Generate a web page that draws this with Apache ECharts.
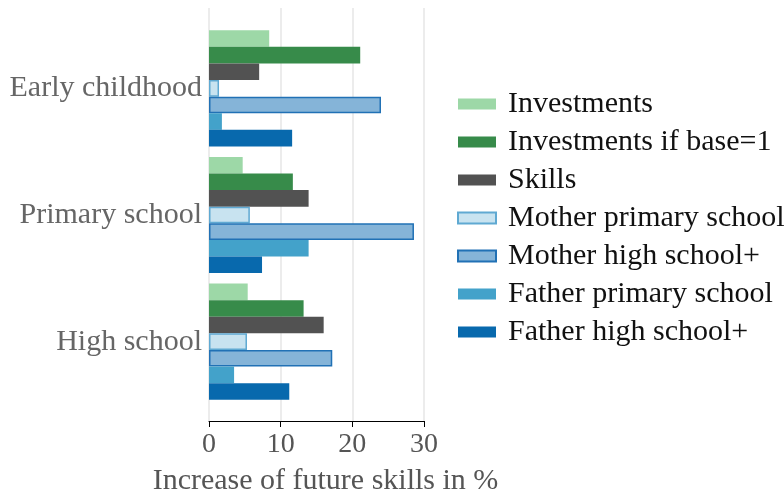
<!DOCTYPE html>
<html>
<head>
<meta charset="utf-8">
<script src="https://cdn.jsdelivr.net/npm/echarts@6/dist/echarts.min.js"></script>
<style>
  html, body { margin: 0; padding: 0; background: #fff; }
  #chart { width: 784px; height: 493px; }
</style>
</head>
<body>
<div id="chart"></div>
<script>
  // categories, top to bottom
  var stages = ['Early childhood', 'Primary school', 'High school'];

  var seriesNames = ['Investments', 'Investments if base=1', 'Skills',
    'Mother primary school', 'Mother high school+',
    'Father primary school', 'Father high school+'];

  var investments = [8.4, 4.7, 5.4];
  var investmentsBase1 = [21.1, 11.7, 13.2];
  var skills = [7.0, 13.9, 16.0];
  var motherPrimary = [1.4, 5.7, 5.3];
  var motherHigh = [24.0, 28.6, 17.2];
  var fatherPrimary = [1.8, 13.9, 3.5];
  var fatherHigh = [11.6, 7.4, 11.2];

  var xTicks = [0, 10, 20, 30];

  var font = "'Liberation Serif', 'Times New Roman', serif";

  var colors = ['#9dd8a7', '#378b4a', '#525252', '#c8e3f0', '#85b4d8', '#43a2ca', '#0869ad'];
  var borders = [null, null, null, '#5fa9d2', '#2171b5', null, null];
  var allData = [investments, investmentsBase1, skills, motherPrimary, motherHigh, fatherPrimary, fatherHigh];

  var myChart = echarts.init(document.getElementById('chart'));

  var series = [];
  for (var i = 0; i < seriesNames.length; i++) {
    var style = { color: colors[i] };
    if (borders[i]) {
      style.borderColor = borders[i];
      style.borderWidth = 1.5;
    }
    series.push({
      name: seriesNames[i],
      type: 'bar',
      xAxisIndex: 0,
      yAxisIndex: 0,
      barGap: '0%',
      barCategoryGap: '8.3%',
      itemStyle: style,
      data: allData[i]
    });
  }

  var option = {
    animation: false,
    textStyle: { fontFamily: font },
    grid: [
      // bars
      { left: 209, right: 360, top: 25, bottom: 88, outerBoundsMode: 'none' },
      // axis + gridlines
      { left: 209, right: 360, top: 8, bottom: 72, outerBoundsMode: 'none' }
    ],
    legend: {
      orient: 'vertical',
      left: 452,
      top: 84,
      icon: 'rect',
      itemWidth: 38,
      itemHeight: 11,
      itemGap: 8,
      data: seriesNames,
      textStyle: {
        fontFamily: font,
        fontSize: 30,
        lineHeight: 30,
        color: '#111',
        padding: [0, 0, 0, 7]
      }
    },
    xAxis: [
      {
        gridIndex: 0,
        type: 'value',
        min: 0,
        max: 30,
        interval: 10,
        show: false
      },
      {
        gridIndex: 1,
        type: 'value',
        min: xTicks[0],
        max: xTicks[xTicks.length - 1],
        interval: 10,
        name: 'Increase of future skills in %',
        nameLocation: 'middle',
        nameGap: 45,
        nameTextStyle: { fontFamily: font, fontSize: 30, color: '#555', padding: [0, 0, 0, 18] },
        axisLine: { show: true, lineStyle: { color: '#000', width: 1 } },
        axisTick: { show: true, length: 6, lineStyle: { color: '#000' } },
        axisLabel: { fontFamily: font, fontSize: 28, color: '#555', margin: 10 },
        splitLine: { show: true, lineStyle: { color: '#e6e6e6', width: 1.5 } }
      }
    ],
    yAxis: [
      {
        gridIndex: 0,
        type: 'category',
        inverse: true,
        data: stages,
        axisLine: { show: false },
        axisTick: { show: false },
        axisLabel: { fontFamily: font, fontSize: 30, color: '#666', margin: 7 }
      },
      {
        gridIndex: 1,
        type: 'value',
        show: false
      }
    ],
    series: series
  };

  myChart.setOption(option);
  window.addEventListener('resize', function () {
    myChart.resize()
  });
</script>
</body>
</html>
